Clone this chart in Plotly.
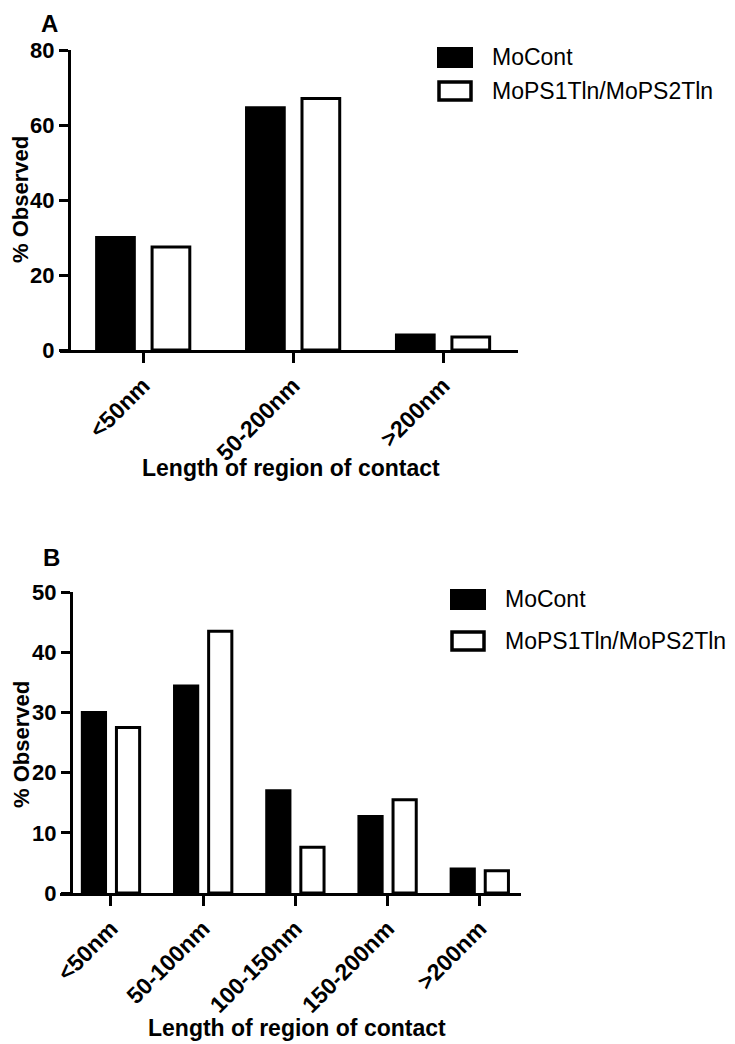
import plotly.graph_objects as go

# data (% observed)
series_names = ["MoCont", "MoPS1Tln/MoPS2Tln"]

cats_a = ["<50nm", "50-200nm", ">200nm"]
mocont_a = [30.0, 64.6, 4.0]
mops_a = [27.5, 67.1, 3.5]

cats_b = ["<50nm", "50-100nm", "100-150nm", "150-200nm", ">200nm"]
mocont_b = [30.0, 34.4, 17.0, 12.7, 4.0]
mops_b = [27.5, 43.5, 7.6, 15.5, 3.7]

# the page body has an 8px margin, so the figure is drawn 8px smaller and
# positions below are given in window pixels, shifted by that margin
OFF = 8
W, H = 735 - OFF, 1044 - OFF
FONT = "Liberation Sans, Arial, sans-serif"


def px(x):
    return (x - OFF) / W


def py(y):
    return 1 - (y - OFF) / H


fig = go.Figure()

# panel A
fig.add_trace(go.Bar(x=cats_a, y=mocont_a, name=series_names[0],
                     marker=dict(color="black", line=dict(color="black", width=3)),
                     xaxis="x", yaxis="y", showlegend=False))
fig.add_trace(go.Bar(x=cats_a, y=mops_a, name=series_names[1],
                     marker=dict(color="white", line=dict(color="black", width=3)),
                     xaxis="x", yaxis="y", showlegend=False))
# panel B
fig.add_trace(go.Bar(x=cats_b, y=mocont_b, name=series_names[0],
                     marker=dict(color="black", line=dict(color="black", width=3)),
                     xaxis="x2", yaxis="y2", showlegend=False))
fig.add_trace(go.Bar(x=cats_b, y=mops_b, name=series_names[1],
                     marker=dict(color="white", line=dict(color="black", width=3)),
                     xaxis="x2", yaxis="y2", showlegend=False))

tickfont = dict(family=FONT, size=22, color="black", weight="bold")
xcommon = dict(showline=True, linewidth=3, linecolor="black", ticks="outside",
               ticklen=10, tickwidth=3, tickcolor="black", tickangle=-45,
               tickfont=dict(tickfont, size=23), showgrid=False, zeroline=False,
               automargin=False)
ycommon = dict(showline=True, linewidth=3, linecolor="black", ticks="outside",
               ticklen=9, tickwidth=3, tickcolor="black", tickfont=tickfont,
               showgrid=False, zeroline=False, anchor="free", automargin=False)

fig.update_layout(
    template="none",
    width=W, height=H,
    margin=dict(l=0, r=0, t=0, b=0, pad=0),
    paper_bgcolor="white", plot_bgcolor="white",
    barmode="group", bargap=0.26, bargroupgap=0.32,
    showlegend=False,
    xaxis=dict(xcommon, domain=[px(60), px(518)], range=[-0.555, 2.5], anchor="y"),
    yaxis=dict(ycommon, domain=[py(350), py(50)], range=[0, 80], dtick=20,
               position=px(69)),
    xaxis2=dict(xcommon, domain=[px(60), px(521)], range=[-0.553, 4.447], anchor="y2"),
    yaxis2=dict(ycommon, domain=[py(893), py(592)], range=[0, 50], dtick=10,
                position=px(71)),
)

annots = []
titlefont = dict(family=FONT, size=22, color="black", weight="bold")
# panel letters (kept inside the figure so they are not clipped)
annots.append(dict(text="A", x=px(49), y=py(23), font=dict(titlefont, size=24)))
annots.append(dict(text="B", x=px(51), y=py(557), font=dict(titlefont, size=24)))
# axis titles
annots.append(dict(text="% Observed", x=px(21), y=py(200), textangle=-90, font=titlefont))
annots.append(dict(text="% Observed", x=px(21), y=py(745), textangle=-90, font=titlefont))
annots.append(dict(text="Length of region of contact", x=px(291), y=py(468),
                   font=dict(titlefont, size=23)))
annots.append(dict(text="Length of region of contact", x=px(297), y=py(1028),
                   font=dict(titlefont, size=23)))

# custom legends (large swatches like the original)
shapes = []
legfont = dict(family=FONT, size=23, color="black")
for sx, ty in [(437, [57, 91]), (450, [599, 641])]:
    shapes.append(dict(type="rect", xref="paper", yref="paper",
                       x0=px(sx), x1=px(sx + 36), y0=py(ty[0] - 10), y1=py(ty[0] + 11),
                       fillcolor="black", line=dict(width=0)))
    shapes.append(dict(type="rect", xref="paper", yref="paper",
                       x0=px(sx + 2), x1=px(sx + 34), y0=py(ty[1] - 9), y1=py(ty[1] + 9),
                       fillcolor="white", line=dict(color="black", width=3.5)))
    for name, yy in zip(series_names, ty):
        annots.append(dict(text=name, x=px(sx + 53), y=py(yy), xanchor="left",
                           font=legfont))

for a in annots:
    a.setdefault("xanchor", "center")
    a.update(xref="paper", yref="paper", yanchor="middle", showarrow=False)

fig.update_layout(annotations=annots, shapes=shapes)

fig.write_html("out.html")
